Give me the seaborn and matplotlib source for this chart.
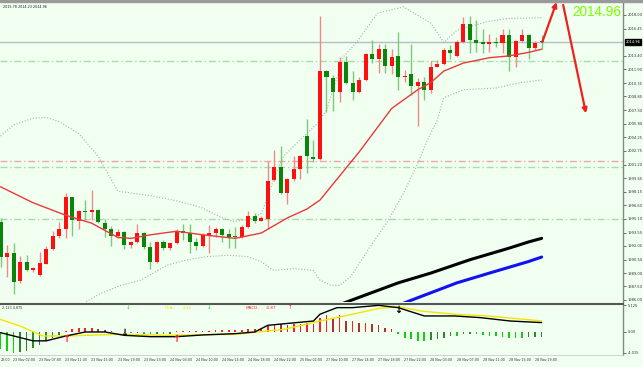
import matplotlib
matplotlib.use("Agg")
import matplotlib.pyplot as plt
import matplotlib.transforms as mtransforms
import numpy as np
import seaborn as sns

# ---------------- data ----------------
opens = [1994.7, 1990.8, 1991.2, 1988.1, 1990.2, 1989.3, 1988.8, 1990.0, 1991.7, 1993.2,
         1994.0, 1997.5, 1994.8, 1996.0, 1995.9, 1996.1, 1994.6, 1994.0, 1993.2, 1993.6,
         1992.1, 1992.5, 1993.5, 1991.9, 1990.3, 1992.5, 1991.8, 1992.4, 1993.7, 1993.5,
         1992.5, 1992.0, 1993.3, 1993.5, 1994.0, 1993.4, 1993.2, 1993.0, 1994.2, 1995.4,
         1994.9, 1995.1, 1999.5, 2000.9, 1998.0, 1999.6, 2000.7, 2004.4, 2002.0, 2001.8,
         2011.7, 2010.9, 2009.3, 2012.7, 2010.4, 2009.3, 2010.7, 2013.6, 2013.1, 2014.2,
         2012.3, 2013.4, 2011.0, 2011.4, 2010.0, 2010.5, 2009.6, 2012.2, 2012.5, 2014.1,
         2013.4, 2015.0, 2017.0, 2015.2, 2015.0, 2014.7, 2015.0, 2014.9, 2015.7, 2013.3,
         2015.1, 2015.8, 2014.3, 2015.0]
highs = [1995.2, 1992.2, 1992.4, 1990.9, 1991.0, 1989.7, 1991.4, 1992.0, 1993.7, 1994.7,
         1998.0, 1997.6, 1996.1, 1997.2, 1998.3, 1996.2, 1995.1, 1994.3, 1994.0, 1993.7,
         1992.6, 1994.5, 1993.6, 1992.5, 1992.6, 1992.7, 1992.4, 1994.0, 1994.5, 1994.5,
         1992.9, 1993.5, 1994.4, 1994.2, 1994.1, 1993.9, 1994.2, 1994.4, 1996.0, 1995.8,
         1995.4, 2001.6, 2002.8, 2003.3, 1999.7, 2002.1, 2002.3, 2006.3, 2003.9, 2017.9,
         2011.8, 2011.3, 2013.3, 2013.4, 2011.7, 2011.0, 2013.7, 2015.2, 2014.7, 2014.7,
         2014.2, 2016.1, 2011.8, 2014.7, 2010.9, 2011.0, 2012.8, 2012.9, 2014.3, 2014.6,
         2015.2, 2017.8, 2017.9, 2017.4, 2016.4, 2015.9, 2015.5, 2016.4, 2016.4, 2015.2,
         2016.4, 2015.9, 2015.1, 2015.78]
lows = [1989.7, 1988.6, 1986.7, 1987.9, 1989.2, 1989.1, 1988.7, 1990.0, 1991.6, 1992.9,
        1992.9, 1993.2, 1994.0, 1995.0, 1995.0, 1994.6, 1993.0, 1992.0, 1992.9, 1991.7,
        1991.8, 1992.4, 1991.7, 1989.5, 1990.1, 1991.6, 1991.6, 1992.3, 1992.7, 1991.2,
        1991.6, 1991.9, 1991.2, 1993.0, 1992.5, 1991.8, 1991.8, 1992.9, 1994.1, 1994.6,
        1994.8, 1994.0, 1999.3, 1997.9, 1996.8, 1999.4, 1999.6, 2000.2, 2001.5, 2001.7,
        2007.1, 2007.2, 2008.2, 2010.2, 2008.4, 2009.2, 2010.6, 2012.6, 2011.5, 2011.5,
        2011.4, 2009.6, 2010.5, 2009.0, 2005.5, 2008.4, 2009.2, 2012.1, 2012.4, 2013.1,
        2013.3, 2014.9, 2013.7, 2013.8, 2013.7, 2013.8, 2014.4, 2013.7, 2011.7, 2012.2,
        2015.0, 2013.1, 2014.1, 2014.23]
closes = [1990.8, 1991.2, 1988.0, 1990.2, 1989.4, 1989.6, 1990.1, 1991.7, 1993.2, 1994.0,
          1997.5, 1995.0, 1996.0, 1995.9, 1996.1, 1994.7, 1994.0, 1993.2, 1993.6, 1992.2,
          1992.5, 1993.5, 1991.9, 1990.3, 1992.5, 1991.8, 1992.4, 1993.7, 1993.5, 1992.5,
          1992.0, 1993.3, 1993.5, 1994.0, 1993.3, 1993.1, 1993.1, 1994.2, 1995.4, 1994.9,
          1995.2, 1999.3, 2000.9, 1998.0, 1999.6, 2000.7, 2002.1, 2002.1, 2001.8, 2011.7,
          2011.0, 2009.3, 2012.7, 2010.4, 2009.3, 2010.7, 2013.6, 2013.1, 2014.2, 2012.3,
          2013.3, 2011.0, 2011.2, 2010.0, 2010.5, 2009.6, 2012.2, 2012.5, 2014.1, 2013.7,
          2015.0, 2017.0, 2015.2, 2014.9, 2014.7, 2015.0, 2014.9, 2015.7, 2013.3, 2015.1,
          2015.8, 2014.3, 2014.9, 2014.96]

# moving average (red) read at bar positions
ma_idx = [0, 5, 10, 14, 18, 20, 23, 27, 31, 36, 40, 44, 47, 49, 51, 55, 60, 64, 66, 68, 71, 75, 78, 81, 83]
ma_val = [1998.7, 1996.9, 1995.5, 1994.6, 1993.0, 1992.9, 1993.3, 1993.7, 1993.3, 1992.9, 1993.5,
          1995.2, 1996.2, 1997.2, 1999.0, 2002.6, 2007.5, 2009.6, 2010.4, 2011.7, 2012.6, 2013.2,
          2013.4, 2013.8, 2014.15]
# Bollinger bands (dotted)
up_idx = [0, 2, 5, 7, 9, 12, 15, 17, 18, 20, 23, 26.5, 28.7, 31, 33.7, 35.7, 37.9, 40, 41, 42,
          43.4, 46, 48.6, 50, 52.6, 54.7, 57.8, 61.8, 66, 68, 70, 74.6, 77.7, 83]
up_val = [2004.4, 2005.65, 2006.4, 2006.5, 2006.0, 2004.7, 2002.1, 1999.5, 1998.2, 1998.0, 1997.7,
          1997.2, 1996.8, 1996.3, 1995.3, 1994.8, 1995.0, 1995.7, 1997.6, 1999.8, 2002.1, 2004.0,
          2005.8, 2007.3, 2013.3, 2015.0, 2018.2, 2018.9, 2017.1, 2014.9, 2016.3, 2017.25, 2017.6, 2017.7]
lo_idx = [12, 15.3, 18.4, 21.5, 25.6, 28.7, 31.7, 34.8, 37.9, 39.9, 41.9, 44.9, 48, 49, 50.6, 52,
          53.7, 56.7, 59.5, 61.8, 64, 65.5, 67, 68, 71, 76, 79.8, 83]
lo_val = [1985.3, 1986.7, 1987.6, 1988.2, 1989.9, 1990.5, 1990.85, 1991.0, 1990.85, 1990.3, 1989.3,
          1989.5, 1989.3, 1988.2, 1987.65, 1987.6, 1988.6, 1991.95, 1994.97, 1997.97, 2001.3, 2003.96,
          2006.2, 2008.7, 2009.6, 2009.8, 2010.4, 2010.7]
# long moving averages
blk_idx = [50, 54, 61, 66, 72, 78, 81, 83]
blk_val = [1984.9, 1986.0, 1987.9, 1989.0, 1990.5, 1991.8, 1992.5, 1992.9]
blu_idx = [59, 63, 70, 75, 81, 83]
blu_val = [1984.8, 1985.95, 1987.9, 1989.0, 1990.3, 1990.8]

# horizontal levels
level_green = [2012.85, 2000.93, 1995.05]
level_red = [2001.56]
last_price = 2014.96

# MACD pane
macd_hist = [-3.3, -3.6, -4.0, -3.8, -3.6, -3.0, -2.4, -1.7, -1.1, -0.6,
             0.2, 0.5, 0.7, 0.8, 0.8, 0.6, 0.3, 0.15, 0.05, -0.2,
             -0.25, -0.2, -0.3, -0.45, -0.4, -0.4, -0.3, 0.1, 0.2, 0.15,
             0.15, 0.2, 0.25, 0.3, 0.3, 0.3, 0.3, 0.45, 0.65, 0.6,
             0.6, 1.15, 1.6, 1.45, 1.35, 1.55, 1.6, 1.8, 1.6, 2.75,
             3.2, 2.75, 3.2, 2.1, 2.1, 1.8, 1.8, 1.45, 1.3, 0.85,
             0.5, -0.3, -1.1, -1.4, -1.7, -1.7, -1.5, -1.4, -1.1, -0.75,
             -0.75, -0.45, -0.3, -0.45, -0.65, -0.75, -0.75, -0.95, -1.1, -1.1,
             -1.1, -1.0, -0.95, -0.87]
dif_idx = [0, 5, 7, 10, 13, 16, 19, 23, 27, 31, 36, 39, 41, 48, 49, 51.6, 54, 58, 61, 65, 69.6, 73.6, 78.2, 83]
dif_val = [-0.13, -1.7, -1.7, -0.77, 0.0, 0.0, -0.64, -0.9, -0.9, -0.57, -0.32, 0.0, 1.28, 2.1, 3.4,
           4.66, 4.66, 5.1, 4.66, 3.07, 3.07, 2.75, 2.1, 1.8]
dea_idx = [0, 3, 6.5, 10, 18, 25.5, 36, 41, 43.5, 49, 54, 58, 61, 64.6, 69.6, 74.7, 83]
dea_val = [2.4, 1.15, -0.77, -0.77, -0.45, -0.64, -0.45, 0.2, 0.5, 2.1, 3.4, 4.5, 4.85, 4.0, 3.4, 3.07, 2.12]
sig_up_idx = [10, 27]
sig_up_val = [-1.25, -1.25]
sig_dn_idx = [19, 61]
sig_dn_val = [-0.2, 4.3]

price_ticks = [2018.00, 2016.45, 2013.40, 2011.90, 2010.35, 2008.85, 2007.30, 2005.80, 2004.25,
               2002.75, 2001.20, 1999.65, 1998.15, 1996.60, 1995.10, 1993.55, 1992.05, 1990.50,
               1989.00, 1987.50, 1986.00]
macd_ticks = [5.125, 0.0, -4.015]
macd_tick_labels = ["5.125", "0.00", "-4.015"]
time_idx = [2, 6, 10, 14, 18, 22, 26, 30, 34, 38, 42, 46, 50, 54, 58, 62, 66, 70, 74, 78, 82]
time_labels = ["23 Nov 02:00", "23 Nov 07:00", "23 Nov 11:00", "23 Nov 15:00",
               "23 Nov 19:00", "23 Nov 23:00", "24 Nov 03:00", "24 Nov 10:00", "24 Nov 14:00",
               "24 Nov 18:00", "24 Nov 22:00", "25 Nov 02:00", "27 Nov 10:00", "27 Nov 14:00",
               "27 Nov 18:00", "27 Nov 22:00", "28 Nov 03:00", "28 Nov 07:00", "28 Nov 11:00",
               "28 Nov 15:00", "28 Nov 19:00"]
first_label = "22:00"
arrow_up = [(83.1, 2014.97), (85.3, 2019.45)]
arrow_down = [(86.3, 2019.13), (89.8, 2006.95)]

# ---------------- style ----------------
sns.set_theme(style="white")
plt.rcParams['font.family'] = ['DejaVu Sans']
BG = '#F0FFF0'
W, H = 643, 367
fig = plt.figure(figsize=(W / 100, H / 100), dpi=100, facecolor=BG)


def rect(l, t, r, b):
    return [l / W, 1 - b / H, (r - l) / W, (b - t) / H]


ax = fig.add_axes(rect(0, 2, 623, 302), facecolor=BG)
axm = fig.add_axes(rect(0, 304, 623, 355), facecolor=BG, sharex=ax)
fig.patches.append(plt.Rectangle((0, 1 - 2 / H), 1, 2 / H, transform=fig.transFigure,
                                 color='#9A9A9A', zorder=0))

n = len(closes)
x = np.arange(n)
o = np.array(opens); c = np.array(closes); hi = np.array(highs); lo = np.array(lows)
up = c >= o
body_col = np.where(up, '#FF1010', '#0A850A')
wick_col = np.where(up, '#F08A8A', '#7CC87C')

# levels
for lv in level_green:
    ax.axhline(lv, color='#A8DCA8', lw=1.0, ls=(0, (5, 2, 1, 2)), zorder=1)
for lv in level_red:
    ax.axhline(lv, color='#EFA8A8', lw=1.0, ls=(0, (5, 2, 1, 2)), zorder=1)
ax.axhline(last_price, color='#B4BCC4', lw=1.0, zorder=1)

# bands / MAs
sns.lineplot(x=up_idx, y=up_val, ax=ax, color='#A9B2A9', lw=0.8, linestyle=(0, (1, 1.6)), zorder=2)
sns.lineplot(x=lo_idx, y=lo_val, ax=ax, color='#A9B2A9', lw=0.8, linestyle=(0, (1, 1.6)), zorder=2)
sns.lineplot(x=blk_idx, y=blk_val, ax=ax, color='black', lw=2.2, zorder=2)
sns.lineplot(x=blu_idx, y=blu_val, ax=ax, color='#1010F0', lw=2.2, zorder=2)

# candles
ax.vlines(x, lo, hi, colors=wick_col, lw=1.0, zorder=3)
bh = np.maximum(np.abs(c - o), 0.12)
ax.bar(x, bh, bottom=np.minimum(o, c), width=0.62, color=body_col, lw=0, zorder=4)
sns.lineplot(x=ma_idx, y=ma_val, ax=ax, color='#E83A3A', lw=1.0, zorder=5)

ax.set_xlim(-0.077, 95.48)
ax.set_ylim(1985.75, 2019.46)
ax.yaxis.tick_right()
ax.set_yticks(price_ticks)
ax.set_yticklabels([f"{t:.2f}" for t in price_ticks])
ax.tick_params(axis='y', labelsize=2.6, length=2, width=0.5, pad=1.5, colors='#333333', right=True)
ax.tick_params(axis='x', bottom=False, labelbottom=False)
ax.set_xlabel(''); ax.set_ylabel('')
for s in ['left', 'bottom', 'top']:
    ax.spines[s].set_visible(False)
ax.spines['right'].set_color('#7F8A7F'); ax.spines['right'].set_linewidth(1.0)

trans = mtransforms.blended_transform_factory(ax.transAxes, ax.transData)
ax.text(1.004, last_price, f"{last_price:.2f}", transform=trans, fontsize=2.6, color='white',
        va='center', ha='left', bbox=dict(boxstyle='square,pad=0.25', fc='black', ec='black'), zorder=10)
ax.text(0.005, 0.99, "2015.78 2014.23 2014.96", transform=ax.transAxes, fontsize=2.4,
        color='#222222', va='top', ha='left')
ax.text(0.997, 0.967, f"{last_price:.2f}", transform=ax.transAxes, fontsize=9.8,
        family=['Liberation Sans', 'DejaVu Sans'], color='#7CFC00', va='center', ha='right', zorder=9)

for (a, b) in [arrow_up, arrow_down]:
    ax.annotate('', xy=b, xytext=a, annotation_clip=False,
                arrowprops=dict(arrowstyle='-|>', color='#F02020', lw=1.6, mutation_scale=7,
                                shrinkA=0, shrinkB=0), zorder=8)

# ---------------- MACD pane ----------------
hist = np.array(macd_hist)
prev = np.concatenate([[hist[0]], hist[:-1]])
hcol = np.where(hist >= 0, np.where(hist >= prev, '#FF2020', '#B03030'),
                np.where(hist <= prev, '#10D010', '#2A8A2A'))
axm.bar(x, hist, width=0.25, color=hcol, lw=0, zorder=2)
sns.lineplot(x=dea_idx, y=dea_val, ax=axm, color='#F2E600', lw=1.0, zorder=3)
sns.lineplot(x=dif_idx, y=dif_val, ax=axm, color='black', lw=1.0, zorder=4)
for i, v in zip(sig_up_idx, sig_up_val):
    axm.text(i, v, '↑', color='#FF2020', fontsize=7, fontweight='bold', ha='center', va='center', zorder=6)
for i, v in zip(sig_dn_idx, sig_dn_val):
    axm.text(i, v, '↓', color='black', fontsize=7, fontweight='bold', ha='center', va='center', zorder=6)

axm.set_ylim(-4.41, 5.36)
axm.yaxis.tick_right()
axm.set_yticks(macd_ticks)
axm.set_yticklabels(macd_tick_labels)
axm.tick_params(axis='y', labelsize=2.6, length=2, width=0.5, pad=1.5, colors='#333333')
axm.tick_params(axis='x', bottom=False, labelbottom=False)
axm.set_xlabel(''); axm.set_ylabel('')
axm.spines['left'].set_visible(False)
axm.spines['top'].set_color('#555555'); axm.spines['top'].set_linewidth(1.5)
axm.spines['right'].set_color('#7F8A7F'); axm.spines['right'].set_linewidth(1.0)
axm.spines['bottom'].set_color('#C8D0C8'); axm.spines['bottom'].set_linewidth(0.6)

tx = mtransforms.blended_transform_factory(axm.transData, axm.transAxes)
for i, lab in zip(time_idx, time_labels):
    axm.text(i - 0.05, -0.06, lab, transform=tx, fontsize=2.3, color='#333333',
             ha='left', va='top', clip_on=False)
axm.text(0.002, -0.06, first_label, transform=axm.transAxes, fontsize=2.3, color='#333333',
         ha='left', va='top', clip_on=False)

axm.text(0.003, 0.97, "2.123 4.875", transform=axm.transAxes, fontsize=2.4, color='#333333', va='top')
axm.text(165 / 623, 0.97, "DEA:", transform=axm.transAxes, fontsize=3.0, color='#F0E000', va='top')
axm.text(183 / 623, 0.97, "2.12", transform=axm.transAxes, fontsize=3.0, color='#F0E000', va='top')
axm.text(246 / 623, 0.97, "MACD:", transform=axm.transAxes, fontsize=3.0, color='#FF3030', va='top')
axm.text(266 / 623, 0.97, "-0.87", transform=axm.transAxes, fontsize=3.0, color='#FF3030', va='top')
axm.text(126 / 623, 0.99, "↓", transform=axm.transAxes, fontsize=4, color='#30D030', va='top')
axm.text(207 / 623, 0.99, "↓", transform=axm.transAxes, fontsize=4, color='#30D030', va='top')
axm.text(288 / 623, 0.99, "↑", transform=axm.transAxes, fontsize=4, color='#FF3030', va='top')

fig.savefig("out.png", dpi=100, facecolor=BG)
